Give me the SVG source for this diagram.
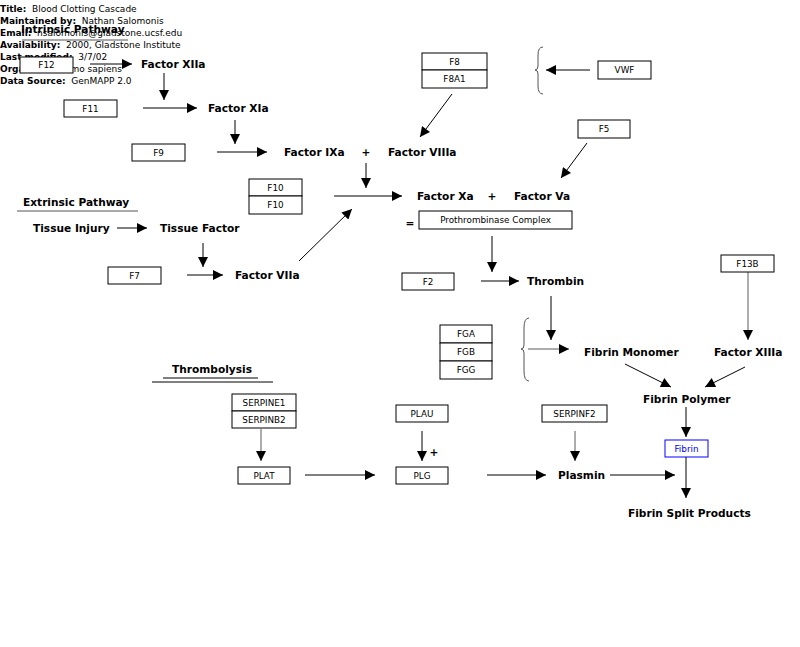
<svg xmlns="http://www.w3.org/2000/svg" width="800" height="647" viewBox="0 0 800 647">
<defs>
<marker id="ah" viewBox="0 0 10 10" refX="10" refY="5" markerWidth="11" markerHeight="10" markerUnits="userSpaceOnUse" orient="auto"><path d="M0,0 L10,5 L0,10 z" fill="#000"/></marker>
</defs>
<style>
text{font-family:"DejaVu Sans","Liberation Sans",sans-serif;fill:#000}
.hd{font-size:9px}
.hb{font-size:9px;font-weight:bold}
.lbl{font-size:10.6px;font-weight:bold}
.bx rect{fill:#fff;stroke:#000;stroke-width:1}
.bx text{font-size:8.8px;text-anchor:middle}
.c line{stroke:#000;stroke-width:1;marker-end:url(#ah)}
.c line.g{stroke:#5a5a5a}
.br{fill:none;stroke:#555;stroke-width:1}
.ul{stroke:#555;stroke-width:1}
</style>
<rect width="800" height="647" fill="#fff"/>
<g id="header">
<text class="hd" x="0" y="12" xml:space="preserve"><tspan class="hb">Title:</tspan>  Blood Clotting Cascade</text>
<text class="hd" x="0" y="24" xml:space="preserve"><tspan class="hb">Maintained by:</tspan>  Nathan Salomonis</text>
<text class="hd" x="0" y="36" xml:space="preserve"><tspan class="hb">Email:</tspan>  nsalomonis@gladstone.ucsf.edu</text>
<text class="hd" x="0" y="48" xml:space="preserve"><tspan class="hb">Availability:</tspan>  2000, Gladstone Institute</text>
<text class="hd" x="0" y="60" xml:space="preserve"><tspan class="hb">Last modified:</tspan>  3/7/02</text>
<text class="hd" x="0" y="72" xml:space="preserve"><tspan class="hb">Organism:</tspan>  Homo sapiens</text>
<text class="hd" x="0" y="84" xml:space="preserve"><tspan class="hb">Data Source:</tspan>  GenMAPP 2.0</text>
</g>
<g id="intrinsic-title"><text class="lbl" x="21" y="33">Intrinsic Pathway</text><line class="ul" x1="22" y1="40" x2="128" y2="40"/></g>
<g id="extrinsic-title"><text class="lbl" x="23" y="206">Extrinsic Pathway</text><line class="ul" x1="17" y1="211" x2="138" y2="211"/></g>
<g id="thrombolysis-title"><text class="lbl" x="172" y="373">Thrombolysis</text><line x1="163" y1="378" x2="258" y2="378" stroke="#000"/><line x1="152" y1="382" x2="273" y2="382" stroke="#000"/></g>

<g id="connectors" class="c">
<line x1="90" y1="64" x2="132" y2="64"/>
<line x1="164" y1="73" x2="164" y2="100"/>
<line x1="143" y1="108" x2="197" y2="108"/>
<line x1="235" y1="120" x2="235" y2="144"/>
<line x1="217" y1="152" x2="267" y2="152"/>
<line x1="452" y1="94" x2="420" y2="137"/>
<line x1="590" y1="70" x2="546" y2="70"/>
<line x1="587" y1="143" x2="561" y2="178"/>
<line x1="366" y1="163" x2="366" y2="188"/>
<line x1="334" y1="196" x2="402" y2="196"/>
<line x1="299" y1="261" x2="352" y2="209"/>
<line x1="117" y1="228" x2="147" y2="228"/>
<line x1="203" y1="243" x2="203" y2="267"/>
<line x1="187" y1="275" x2="223" y2="275"/>
<line x1="492" y1="236" x2="492" y2="272"/>
<line x1="481" y1="281" x2="519" y2="281"/>
<line x1="551" y1="296" x2="551" y2="340"/>
<line class="g" x1="748" y1="272" x2="748" y2="340"/>
<line class="g" x1="528" y1="349" x2="569" y2="349"/>
<line x1="625" y1="364" x2="671" y2="387"/>
<line x1="745" y1="367" x2="705" y2="387"/>
<line x1="686" y1="407" x2="686" y2="437"/>
<line x1="686" y1="457" x2="686" y2="498"/>
<line class="g" x1="261" y1="429" x2="261" y2="461"/>
<line x1="305" y1="475" x2="375" y2="475"/>
<line x1="422" y1="431" x2="422" y2="461"/>
<line x1="487" y1="475" x2="546" y2="475"/>
<line class="g" x1="575" y1="431" x2="575" y2="461"/>
<line x1="610" y1="475" x2="675" y2="475"/>
</g>

<g id="braces">
<path class="br" d="M543,47 Q538,47 538,55 L538,66 Q538,70 535,70 Q538,70 538,74 L538,86 Q538,94 543,94"/>
<path class="br" d="M529,318 Q524,318 524,328 L524,345 Q524,349 521,349 Q524,349 524,353 L524,371 Q524,381 529,381"/>
</g>

<g id="F12" class="bx"><rect x="20" y="57" width="53" height="16"/><text x="46.5" y="68">F12</text></g>
<g id="FactorXIIa"><text class="lbl" x="141" y="68">Factor XIIa</text></g>
<g id="F11" class="bx"><rect x="64" y="100" width="53" height="17"/><text x="90.5" y="112">F11</text></g>
<g id="FactorXIa"><text class="lbl" x="208" y="112">Factor XIa</text></g>
<g id="F9" class="bx"><rect x="132" y="144" width="53" height="17"/><text x="158.5" y="156">F9</text></g>
<g id="FactorIXa"><text class="lbl" x="284" y="156">Factor IXa</text></g>
<g id="plus1"><text class="lbl" x="366" y="156" text-anchor="middle">+</text></g>
<g id="FactorVIIIa"><text class="lbl" x="388" y="156">Factor VIIIa</text></g>
<g id="F8" class="bx"><rect x="422" y="53" width="65" height="17"/><text x="454.5" y="65">F8</text></g>
<g id="F8A1" class="bx"><rect x="422" y="70" width="65" height="18"/><text x="454.5" y="82">F8A1</text></g>
<g id="VWF" class="bx"><rect x="598" y="61" width="53" height="18"/><text x="624.5" y="73">VWF</text></g>
<g id="F5" class="bx"><rect x="578" y="120" width="52" height="18"/><text x="604" y="132">F5</text></g>
<g id="F10a" class="bx"><rect x="249" y="179" width="53" height="17"/><text x="275.5" y="191">F10</text></g>
<g id="F10b" class="bx"><rect x="249" y="196" width="53" height="18"/><text x="275.5" y="208">F10</text></g>
<g id="FactorXa"><text class="lbl" x="417" y="200">Factor Xa</text></g>
<g id="plus2"><text class="lbl" x="492" y="200" text-anchor="middle">+</text></g>
<g id="FactorVa"><text class="lbl" x="514" y="200">Factor Va</text></g>
<g id="equals"><text class="lbl" x="410" y="227" text-anchor="middle">=</text></g>
<g id="Prothrombinase" class="bx"><rect x="419" y="211" width="153" height="18"/><text x="495.5" y="223">Prothrombinase Complex</text></g>
<g id="TissueInjury"><text class="lbl" x="33" y="232">Tissue Injury</text></g>
<g id="TissueFactor"><text class="lbl" x="160" y="232">Tissue Factor</text></g>
<g id="F7" class="bx"><rect x="108" y="267" width="53" height="17"/><text x="134.5" y="279">F7</text></g>
<g id="FactorVIIa"><text class="lbl" x="235" y="279">Factor VIIa</text></g>
<g id="F2" class="bx"><rect x="402" y="273" width="52" height="17"/><text x="428" y="285">F2</text></g>
<g id="Thrombin"><text class="lbl" x="527" y="285">Thrombin</text></g>
<g id="F13B" class="bx"><rect x="721" y="255" width="53" height="17"/><text x="747.5" y="267">F13B</text></g>
<g id="FGA" class="bx"><rect x="440" y="325" width="52" height="18"/><text x="466" y="337">FGA</text></g>
<g id="FGB" class="bx"><rect x="440" y="343" width="52" height="18"/><text x="466" y="355">FGB</text></g>
<g id="FGG" class="bx"><rect x="440" y="361" width="52" height="18"/><text x="466" y="373">FGG</text></g>
<g id="FibrinMonomer"><text class="lbl" x="584" y="356">Fibrin Monomer</text></g>
<g id="FactorXIIIa"><text class="lbl" x="714" y="356">Factor XIIIa</text></g>
<g id="FibrinPolymer"><text class="lbl" x="643" y="403">Fibrin Polymer</text></g>
<g id="Fibrin" class="bx"><rect x="665" y="440" width="43" height="17" style="stroke:#00f"/><text x="686.5" y="452" style="fill:#00f">Fibrin</text></g>
<g id="FibrinSplitProducts"><text class="lbl" x="628" y="517">Fibrin Split Products</text></g>
<g id="SERPINE1" class="bx"><rect x="232" y="394" width="64" height="17"/><text x="264" y="406">SERPINE1</text></g>
<g id="SERPINB2" class="bx"><rect x="232" y="411" width="64" height="17"/><text x="264" y="423">SERPINB2</text></g>
<g id="PLAT" class="bx"><rect x="238" y="467" width="52" height="17"/><text x="264" y="479">PLAT</text></g>
<g id="PLAU" class="bx"><rect x="396" y="405" width="52" height="17"/><text x="422" y="417">PLAU</text></g>
<g id="plus3"><text class="lbl" x="434" y="456" text-anchor="middle">+</text></g>
<g id="PLG" class="bx"><rect x="396" y="467" width="52" height="17"/><text x="422" y="479">PLG</text></g>
<g id="SERPINF2" class="bx"><rect x="542" y="405" width="65" height="17"/><text x="574.5" y="417">SERPINF2</text></g>
<g id="Plasmin"><text class="lbl" x="558" y="479">Plasmin</text></g>
</svg>
